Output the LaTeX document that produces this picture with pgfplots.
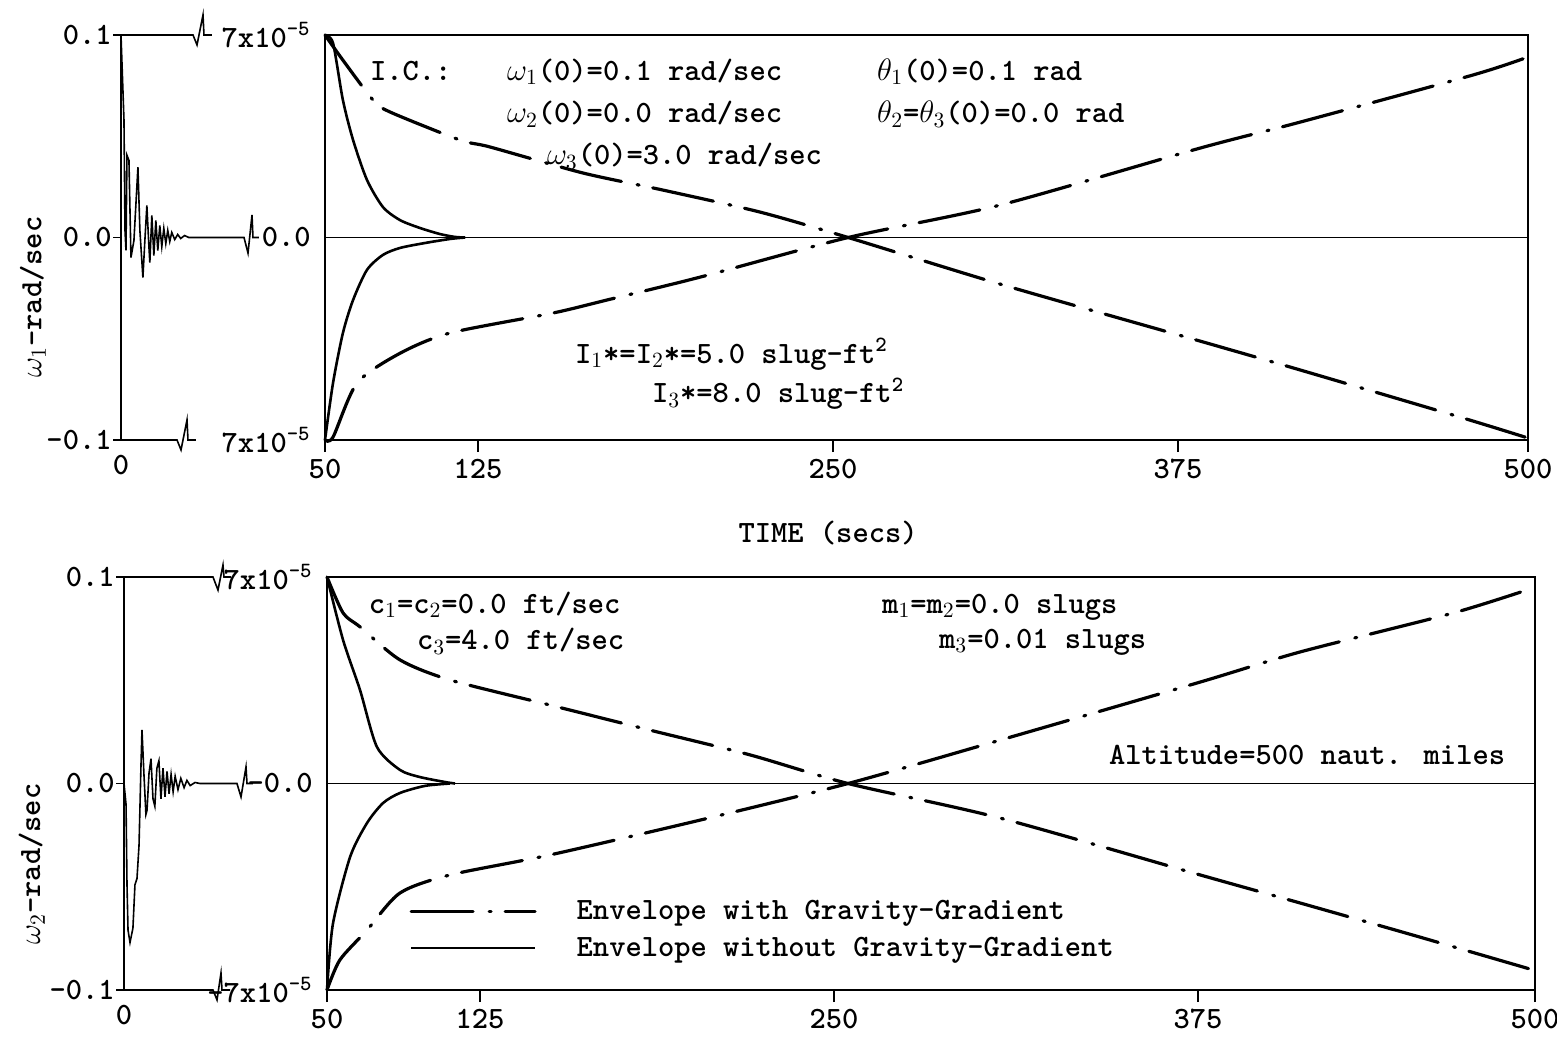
\documentclass[border=0pt]{standalone}
\usepackage{fix-cm}
\usepackage{pgfplots}
\pgfplotsset{compat=1.18}

% typewriter face used for every label on the sheet
\newcommand{\tw}{\ttfamily\bfseries\fontsize{15.5}{18}\selectfont}

\pgfplotsset{
  envgg/.style={black, line width=1.6pt, line cap=round, smooth, tension=0.45,
    dash pattern=on 31pt off 8pt on 1pt off 7pt},
  envno/.style={black, line width=1.3pt, smooth, tension=0.45},
  sig/.style={black, line width=0.8pt},
  thinline/.style={black, line width=0.6pt},
  leftpanel/.style={
    scale only axis, clip=false,
    xmin=0, xmax=50, ymin=-0.1, ymax=0.1,
    axis x line*=bottom, axis y line*=left,
    x axis line style={draw=none},
    y axis line style={line width=1.4pt},
    xtick={0}, xticklabels={0}, xtick style={draw=none},
    ytick={-0.1,0,0.1}, yticklabels={-0.1,0.0,0.1},
    tick align=outside, major tick length=4pt,
    ytick style={line width=0.8pt, black},
    tick label style={font=\tw},
    yticklabel style={inner xsep=0.5pt},
  },
  rightpanel/.style={
    scale only axis, clip=false,
    xmin=50, xmax=500, ymin=-7, ymax=7,
    axis line style={line width=0.6pt},
    ytick={-7,0,7}, ytick style={draw=none},
    xtick pos=left, ytick pos=left,
    tick align=outside, major tick length=6pt,
    xtick style={line width=0.8pt, black},
    tick label style={font=\tw},
    yticklabel style={inner xsep=1pt},
  },
}

\begin{document}
\begin{tikzpicture}
\useasboundingbox (0,0) rectangle (778.5pt,520.5pt);

% ---------------- omega_1, first 50 s ----------------
\begin{axis}[leftpanel, at={(60.5pt,300.5pt)}, width=102pt, height=202.5pt]
\addplot[sig] table {
0 0.1
0.73 0.058
0.98 0.0035
1.22 -0.0064
1.46 0.0406
1.95 0.0381
2.44 -0.0099
3.17 -0.0015
4.15 0.0347
4.63 0.0035
5.37 -0.0198
5.85 -0.0015
6.34 0.0158
6.83 -0.004
7.07 -0.0124
7.56 0.0109
8.05 -0.0089
8.54 0.0084
9.02 -0.0064
9.51 0.0059
10.0 -0.0045
10.49 0.0045
10.98 -0.003
11.46 0.0035
11.95 -0.002
12.44 0.0025
13.17 -0.001
13.9 0.0015
14.63 -0.0005
15.6 0.001
16.6 0
30.15 0
31.13 -0.0077
32.11 0.0111
32.35 0
33.82 0
};
% upper and lower limit lines with their scale breaks
\addplot[sig] table {
0 0.1
17.65 0.1
18.63 0.0951
20.10 0.1099
20.34 0.1
22.30 0.1
};
\addplot[sig] table {
0 -0.1
13.73 -0.1
14.71 -0.1049
16.18 -0.0901
16.42 -0.1
18.38 -0.1
};
\node[rotate=90, font=\tw] at (axis cs:-21.6,-0.0294) {$\omega_1$-rad/sec};
\end{axis}

% ---------------- omega_1 envelopes, 50 to 500 s ----------------
\begin{axis}[rightpanel, at={(162.5pt,300.5pt)}, width=601.5pt, height=202.5pt,
  xtick={50,107.2,240.0,369.1,500}, xticklabels={50,125,250,375,500},
  yticklabels={7x10\textsuperscript{-5},0.0,7x10\textsuperscript{-5}}]
\draw[line width=1.4pt] (rel axis cs:0,0) -- (rel axis cs:0,1);
\addplot[thinline] coordinates {(50,0) (500,0)};
\addplot[envgg] table {
50 7
56.7 6.13
68.0 4.75
74.3 4.34
100.5 3.37
111.7 3.13
146.5 2.23
176.4 1.64
212.7 0.88
245.7 0
302.5 -1.61
377.3 -3.58
414.8 -4.58
474.6 -6.21
498.9 -6.90
};
\addplot[envgg] table {
50 -7
53 -6.9
62 -5.03
78.1 -4.0
96.8 -3.30
135.3 -2.61
155.5 -2.16
190.3 -1.37
245.7 0
302.5 1.12
377.3 3.09
414.8 3.99
479.5 5.62
500 6.24
};
\addplot[envno] table {
50 7
53.0 6.72
56.7 4.75
60.5 3.37
65.7 1.99
71.7 1.05
78.1 0.60
85.5 0.33
93.0 0.12
98.6 0.02
102.4 0
};
\addplot[envno] table {
50 -7
53.0 -5.03
56.7 -3.30
60.5 -2.16
65.7 -1.12
71.7 -0.60
78.1 -0.36
87.4 -0.19
96.8 -0.05
102.4 0
};
\node[anchor=base west, font=\tw] at (axis cs:64.2,5.44) {I.C.:};
\node[anchor=base west, font=\tw] at (axis cs:115.5,5.44) {$\omega_1$(0)=0.1 rad/sec};
\node[anchor=base west, font=\tw] at (axis cs:253.9,5.44) {$\theta_1$(0)=0.1 rad};
\node[anchor=base west, font=\tw] at (axis cs:115.5,3.96) {$\omega_2$(0)=0.0 rad/sec};
\node[anchor=base west, font=\tw] at (axis cs:253.9,3.96) {$\theta_2$=$\theta_3$(0)=0.0 rad};
\node[anchor=base west, font=\tw] at (axis cs:130.4,2.51) {$\omega_3$(0)=3.0 rad/sec};
\node[anchor=base west, font=\tw] at (axis cs:140.9,-4.34) {I$_1$*=I$_2$*=5.0 slug-ft\textsuperscript{2}};
\node[anchor=base west, font=\tw] at (axis cs:169.7,-5.72) {I$_3$*=8.0 slug-ft\textsuperscript{2}};
\node[font=\tw] at (axis cs:238.2,-10.21) {TIME (secs)};
\end{axis}

% ---------------- omega_2, first 50 s ----------------
\begin{axis}[leftpanel, at={(62pt,25.5pt)}, width=101.5pt, height=206.5pt]
\addplot[sig] table {
0 0
0.5 -0.01
0.74 -0.049
0.99 -0.071
1.48 -0.077
2.2 -0.070
2.7 -0.049
3.2 -0.046
3.7 -0.030
4.2 0.01
4.43 0.026
4.9 0.005
5.4 -0.015
5.67 -0.013
6.16 0.005
6.65 0.012
7.14 -0.0074
7.6 -0.011
8.1 0.0074
8.6 0.011
9.1 -0.0074
9.6 0.0074
10.1 -0.0064
10.6 0.0059
11.1 -0.005
11.6 0.0044
12.1 -0.004
12.6 0.0035
13.3 -0.003
14.0 0.0025
14.8 -0.002
15.5 0.0015
16.3 -0.001
17.5 0.0005
18.7 0
27.83 0
28.82 -0.0065
30.05 0.008
30.30 0
31.77 0
};
\addplot[sig] table {
0 0.1
21.92 0.1
23.15 0.0937
24.38 0.1058
24.63 0.1
26.35 0.1
};
\addplot[sig] table {
0 -0.1
21.92 -0.1
22.91 -0.1048
23.89 -0.0918
24.14 -0.1
26.11 -0.1
};
\node[rotate=90, font=\tw] at (axis cs:-22.7,-0.039) {$\omega_2$-rad/sec};
\end{axis}

% ---------------- omega_2 envelopes, 50 to 500 s ----------------
\begin{axis}[rightpanel, at={(163.5pt,25.5pt)}, width=604pt, height=206.5pt,
  xtick={50,107.0,238.9,374.5,500}, xticklabels={50,125,250,375,500},
  yticklabels={-7x10\textsuperscript{-5},-0.0,7x10\textsuperscript{-5}},
  legend style={at={(axis description cs:0.063,0.232)}, anchor=north west,
    draw=none, fill=none, font=\tw, row sep=5pt,
    nodes={inner sep=1pt},
    /tikz/every odd column/.append style={column sep=19pt}},
  legend cell align=left,
  legend image code/.code={
    \draw[#1] (0pt,0pt) -- (62pt,0pt);
  }]
\draw[line width=1.4pt] (rel axis cs:0,0) -- (rel axis cs:0,1);
\addplot[thinline, forget plot] coordinates {(50,0) (500,0)};
\addplot[envgg] table {
50 7
56.0 5.78
62.3 5.31
77.2 4.19
95.8 3.51
133.1 2.66
170.3 1.81
207.6 0.97
244.1 0
300.7 -1.17
375.3 -3.10
412.5 -4.05
454.6 -5.14
499.3 -6.32
};
\addlegendentry{Envelope with Gravity-Gradient}
\addplot[envno] table {
50 7
56.0 4.86
62.3 3.17
68.6 1.24
77.2 0.46
84.6 0.22
94.0 0.05
97.7 0
};
\addlegendentry{Envelope without Gravity-Gradient}
\addplot[envgg, forget plot] table {
50 -7
54.8 -5.98
64.9 -4.97
77.2 -3.71
95.8 -3.10
133.1 -2.42
189.0 -1.24
244.1 0
300.7 1.47
375.3 3.44
412.5 4.46
469.5 5.78
499.3 6.63
};
\addplot[envno, forget plot] table {
50 -7
52.2 -4.76
58.6 -2.49
64.9 -1.34
70.9 -0.66
77.2 -0.32
86.5 -0.08
95.8 0
};
\node[anchor=base west, font=\tw] at (axis cs:63.0,5.78) {c$_1$=c$_2$=0.0 ft/sec};
\node[anchor=base west, font=\tw] at (axis cs:80.9,4.53) {c$_3$=4.0 ft/sec};
\node[anchor=base west, font=\tw] at (axis cs:254.2,5.78) {m$_1$=m$_2$=0.0 slugs};
\node[anchor=base west, font=\tw] at (axis cs:275.4,4.59) {m$_3$=0.01 slugs};
\node[anchor=base west, font=\tw] at (axis cs:338.7,0.63) {Altitude=500 naut. miles};
\end{axis}
\end{tikzpicture}
\end{document}
